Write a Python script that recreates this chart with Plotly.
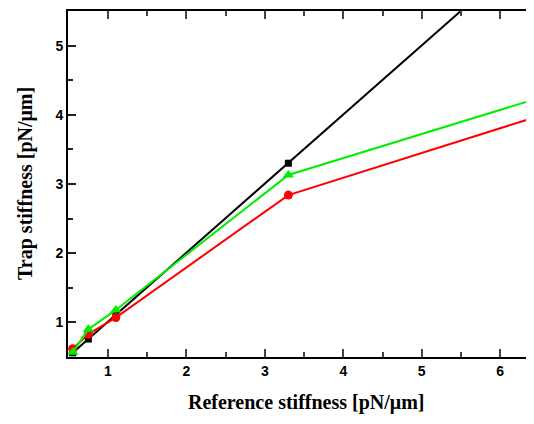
import plotly.graph_objects as go

ref_x = [0.55, 0.75, 1.1, 3.3, 6.6]
black_y = [0.56, 0.76, 1.10, 3.30, 6.6]
red_y = [0.62, 0.83, 1.07, 2.84, 4.02]
green_y = [0.57, 0.90, 1.18, 3.13, 4.28]

x_ticks = [1, 2, 3, 4, 5, 6]
y_ticks = [1, 2, 3, 4, 5]

fig = go.Figure()
fig.add_trace(go.Scatter(x=ref_x, y=black_y, mode="lines+markers",
                         line=dict(color="black", width=2),
                         marker=dict(symbol="square", size=7, color="black")))
fig.add_trace(go.Scatter(x=ref_x, y=red_y, mode="lines+markers",
                         line=dict(color="#ff0000", width=2),
                         marker=dict(symbol="circle", size=9, color="#ff0000")))
fig.add_trace(go.Scatter(x=ref_x, y=green_y, mode="lines+markers",
                         line=dict(color="#00ee00", width=2),
                         marker=dict(symbol="triangle-up", size=10, color="#00ee00")))

tickfont = dict(family="Liberation Sans", size=14, color="black")
titlefont = dict(family="Liberation Serif", size=20, color="black")


def axis_style(tc):
    return dict(ticks="inside", ticklen=8, tickwidth=2, tickcolor=tc,
                showline=True, linewidth=2, linecolor="#000000", mirror="ticks",
                showgrid=False, zeroline=False, tickfont=tickfont, automargin=False,
                minor=dict(ticks="inside", ticklen=5, tickwidth=2, tickcolor=tc,
                           dtick=0.5, tick0=0.5, showgrid=False))


fig.update_xaxes(range=[0.49, 6.47], tickmode="array", tickvals=x_ticks,
                 ticktext=["<b>%d</b>" % v for v in x_ticks], **axis_style("#444444"))
fig.update_yaxes(range=[0.5, 5.5], tickmode="array", tickvals=y_ticks,
                 ticktext=["<b>%d</b>" % v for v in y_ticks], **axis_style("#222222"))

fig.add_annotation(text="<b>Reference stiffness [pN/μm]</b>", xref="paper", yref="paper",
                   x=0, y=0, xanchor="center", yanchor="middle", yshift=-45, xshift=238,
                   showarrow=False, font=titlefont)
fig.add_annotation(text="<b>Trap stiffness [pN/μm]</b>", xref="paper", yref="paper",
                   x=0, y=0.5, xanchor="center", yanchor="middle", xshift=-43, textangle=-90,
                   showarrow=False, font=titlefont)

fig.add_annotation(text="ow stiffness calibrations.", xref="paper", yref="paper",
                   x=0, y=1, xanchor="left", yanchor="bottom", xshift=-70, yshift=-4,
                   showarrow=False,
                   font=dict(family="Liberation Serif", size=24, color="black"))

fig.update_layout(width=534, height=424, margin=dict(l=60, r=5, t=3, b=75),
                  plot_bgcolor="white", paper_bgcolor="white", showlegend=False)

fig.write_html("out.html")
